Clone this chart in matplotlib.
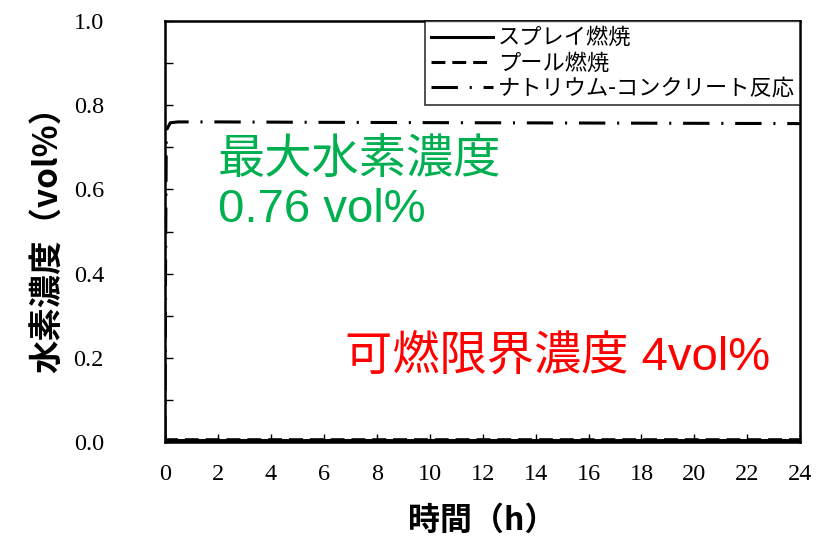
import matplotlib
matplotlib.use("Agg")
import matplotlib.pyplot as plt
from matplotlib.ticker import MultipleLocator, FormatStrFormatter

plt.rcParams['font.family'] = ['Noto Sans CJK JP', 'DejaVu Sans']
plt.rcParams['lines.scale_dashes'] = False

# data (time in h, concentration in vol%)
t_spray = [0, 0.1, 1, 6, 12, 18, 24]
h2_spray = [0, 0.004, 0.004, 0.004, 0.004, 0.004, 0.004]

t_pool = [0, 0.1, 1, 6, 12, 18, 24]
h2_pool = [0, 0.006, 0.006, 0.006, 0.006, 0.006, 0.006]

t_nacr = [0, 0.02, 0.05, 0.2, 0.5, 2, 6, 12, 18, 24]
h2_nacr = [0, 0.40, 0.74, 0.758, 0.76, 0.76, 0.759, 0.758, 0.757, 0.756]

labels = ['スプレイ燃焼', 'プール燃焼', 'ナトリウム-コンクリート反応']

fig = plt.figure(figsize=(8.25, 5.46), dpi=100)
ax = fig.add_axes([0.2, 0.19, 0.77, 0.772])

ax.plot(t_spray, h2_spray, color='black', lw=2.2, linestyle='-', label=labels[0])
ax.plot(t_pool, h2_pool, color='black', lw=2.2, linestyle=(0, (10, 5)), label=labels[1])
ax.plot(t_nacr, h2_nacr, color='black', lw=2.2,
        linestyle=(0, (19, 8.5, 1.5, 8.5)), label=labels[2])

ax.set_xlim(0, 24)
ax.set_ylim(0, 1.0)
ax.xaxis.set_major_locator(MultipleLocator(2))
ax.yaxis.set_major_locator(MultipleLocator(0.2))
ax.yaxis.set_minor_locator(MultipleLocator(0.1))
ax.yaxis.set_major_formatter(FormatStrFormatter('%.1f'))
ax.tick_params(which='both', direction='in', length=6, width=1)
ax.tick_params(axis='both', labelsize=17.5, labelfontfamily='Liberation Serif')
ax.tick_params(axis='x', pad=16)
ax.tick_params(axis='y', pad=44)
for s in ax.spines.values():
    s.set_linewidth(1.8)

ax.set_xlabel('時間（h）', fontsize=23, fontweight='bold', labelpad=14)
ax.set_ylabel('水素濃度（vol%）', fontsize=24, fontweight='bold', labelpad=6)

leg = ax.legend(loc='upper right', fontsize=16, frameon=True, fancybox=False,
                edgecolor='black', borderaxespad=0, handlelength=2.8,
                labelspacing=0.1, handletextpad=0.2, borderpad=0.25)
leg.get_frame().set_linewidth(1.2)

ax.text(0.083, 0.61, '最大水素濃度\n0.76 vol%', transform=ax.transAxes,
        fontsize=34, color='#00B050', va='center', ha='left', linespacing=1.15,
        family=['Liberation Sans', 'Noto Sans CJK JP'])
ax.text(0.283, 0.20, '可燃限界濃度 4vol%', transform=ax.transAxes,
        fontsize=34, color='#FF0000', va='center', ha='left',
        family=['Liberation Sans', 'Noto Sans CJK JP'])

fig.savefig('out.png', dpi=100)
